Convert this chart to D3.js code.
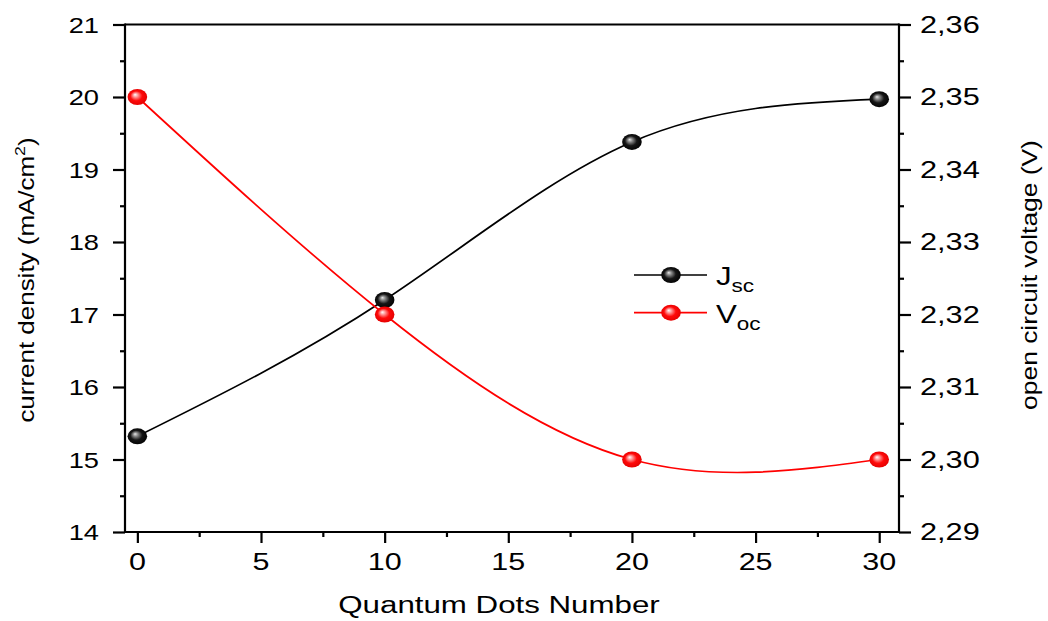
<!DOCTYPE html>
<html><head><meta charset="utf-8">
<script src="https://cdn.jsdelivr.net/npm/d3@7"></script>
<style>
html,body{margin:0;padding:0;background:#fff;}
text{font-family:"Liberation Sans",Arial,sans-serif;fill:#000;}
</style></head>
<body><svg id="chart" width="1048" height="621"></svg>
<script>
// ---- data ----
const dots = [0, 10, 20, 30];
const jsc = [15.32, 17.2, 19.38, 19.97];
const voc = [2.35, 2.32, 2.30, 2.30];
const xTicks = [0, 5, 10, 15, 20, 25, 30];
const xMinorTicks = [2.5, 7.5, 12.5, 17.5, 22.5, 27.5];
const leftTicks = [14, 15, 16, 17, 18, 19, 20, 21];
const leftMinorTicks = [14.5, 15.5, 16.5, 17.5, 18.5, 19.5, 20.5];
const rightTicks = [2.29, 2.30, 2.31, 2.32, 2.33, 2.34, 2.35, 2.36];
const rightTickLabels = ["2,29", "2,30", "2,31", "2,32", "2,33", "2,34", "2,35", "2,36"];
const rightMinorTicks = [2.295, 2.305, 2.315, 2.325, 2.335, 2.345, 2.355];
const xTitle = "Quantum Dots Number";
const legendNames = [["J", "sc"], ["V", "oc"]];

const svg = d3.select("#chart");
const L = 125, R = 899, T = 24.5, B = 532;
const x = d3.scaleLinear().domain([-0.5, 30.8]).range([L, R]);
const yL = d3.scaleLinear().domain([14, 21]).range([B, T]);
const yR = d3.scaleLinear().domain([2.29, 2.36]).range([B, T]);

// gradients
const defs = svg.append("defs");
function grad(id, stops) {
  const g = defs.append("radialGradient").attr("id", id)
    .attr("cx", "50%").attr("cy", "50%").attr("r", "55%").attr("fx", "38%").attr("fy", "35%");
  stops.forEach(s => g.append("stop").attr("offset", s[0]).attr("stop-color", s[1]));
}
grad("gRed", [["0%", "#ffffff"], ["22%", "#ff9a9a"], ["55%", "#ff0a0a"], ["100%", "#e00000"]]);
grad("gBlack", [["0%", "#e8e8e8"], ["22%", "#8a8a8a"], ["55%", "#161616"], ["100%", "#000000"]]);

// frame
const axisW = 2.2;
svg.append("line").attr("x1", L).attr("x2", R).attr("y1", T).attr("y2", T).attr("stroke", "#000").attr("stroke-width", axisW);
svg.append("line").attr("x1", L).attr("x2", R).attr("y1", B).attr("y2", B).attr("stroke", "#000").attr("stroke-width", axisW);
svg.append("line").attr("x1", L).attr("x2", L).attr("y1", T - 1).attr("y2", B + 1).attr("stroke", "#000").attr("stroke-width", axisW);
svg.append("line").attr("x1", R).attr("x2", R).attr("y1", T - 1).attr("y2", B + 1).attr("stroke", "#000").attr("stroke-width", axisW);

// axes via d3 axis generators
function styleAxis(g) {
  g.select(".domain").remove();
  g.selectAll(".tick line").attr("stroke", "#000").attr("stroke-width", axisW);
  g.selectAll(".tick text").remove();
}
svg.append("g").attr("transform", `translate(0,${B})`)
  .call(d3.axisBottom(x).tickValues(xTicks).tickSize(11)).call(styleAxis);
svg.append("g").attr("transform", `translate(0,${B})`)
  .call(d3.axisBottom(x).tickValues(xMinorTicks).tickSize(5)).call(styleAxis);
svg.append("g").attr("transform", `translate(${L},0)`)
  .call(d3.axisLeft(yL).tickValues(leftTicks).tickSize(12)).call(styleAxis);
svg.append("g").attr("transform", `translate(${L},0)`)
  .call(d3.axisLeft(yL).tickValues(leftMinorTicks).tickSize(5)).call(styleAxis);
svg.append("g").attr("transform", `translate(${R},0)`)
  .call(d3.axisRight(yR).tickValues(rightTicks).tickSize(12)).call(styleAxis);
svg.append("g").attr("transform", `translate(${R},0)`)
  .call(d3.axisRight(yR).tickValues(rightMinorTicks).tickSize(5)).call(styleAxis);

// stretched text helper
function stext(px, py, str, size, sx, anchor, rot) {
  const g = svg.append("g").attr("transform", `translate(${px},${py})` + (rot ? ` rotate(${rot})` : "") + ` scale(${sx},1)`);
  const t = g.append("text").attr("x", 0).attr("y", 0).attr("font-size", size).attr("text-anchor", anchor || "start");
  if (str !== null) t.text(str);
  return t;
}

// tick labels
xTicks.forEach(v => stext(x(v), 570, String(v), 24, 1.27, "middle"));
leftTicks.forEach(v => stext(99, yL(v) + 8, String(v), 22, 1.24, "end"));
rightTicks.forEach((v, i) => stext(920, yR(v) + 8.3, rightTickLabels[i], 24, 1.28, "start"));

// titles
stext(499, 613, xTitle, 23, 1.36, "middle");
{
  const t = stext(34, 280, null, 22, 1.18, "middle", -90);
  t.append("tspan").text("current density (mA/cm");
  t.append("tspan").attr("font-size", 15).attr("dy", -9).text("2");
  t.append("tspan").attr("dy", 9).text(")");
}
stext(1037, 275, "open circuit voltage (V)", 22, 1.2, "middle", -90);

// series
const line = (ys) => d3.line().x(d => x(d[0])).y(d => ys(d[1])).curve(d3.curveNatural);
const series = [
  { vals: jsc, scale: yL, color: "#000000", grad: "url(#gBlack)" },
  { vals: voc, scale: yR, color: "#ff0000", grad: "url(#gRed)" }
];
series.forEach(s => {
  const pts = dots.map((d, i) => [d, s.vals[i]]);
  svg.append("path").attr("d", line(s.scale)(pts)).attr("fill", "none")
    .attr("stroke", s.color).attr("stroke-width", 1.7);
  svg.selectAll(null).data(pts).enter().append("ellipse")
    .attr("cx", d => x(d[0])).attr("cy", d => s.scale(d[1]))
    .attr("rx", 9.8).attr("ry", 8).attr("fill", s.grad);
});

// legend
const legY = [275, 312.7];
series.forEach((s, i) => {
  svg.append("line").attr("x1", 634).attr("x2", 707).attr("y1", legY[i]).attr("y2", legY[i])
    .attr("stroke", s.color).attr("stroke-width", 1.7);
  svg.append("ellipse").attr("cx", 671).attr("cy", legY[i]).attr("rx", 9.8).attr("ry", 8).attr("fill", s.grad);
  const t = stext(716, legY[i] + 10, null, 25, 1.25, "start");
  t.append("tspan").text(legendNames[i][0]);
  t.append("tspan").attr("font-size", 18).attr("dy", 7).text(legendNames[i][1]);
});
</script></body></html>
